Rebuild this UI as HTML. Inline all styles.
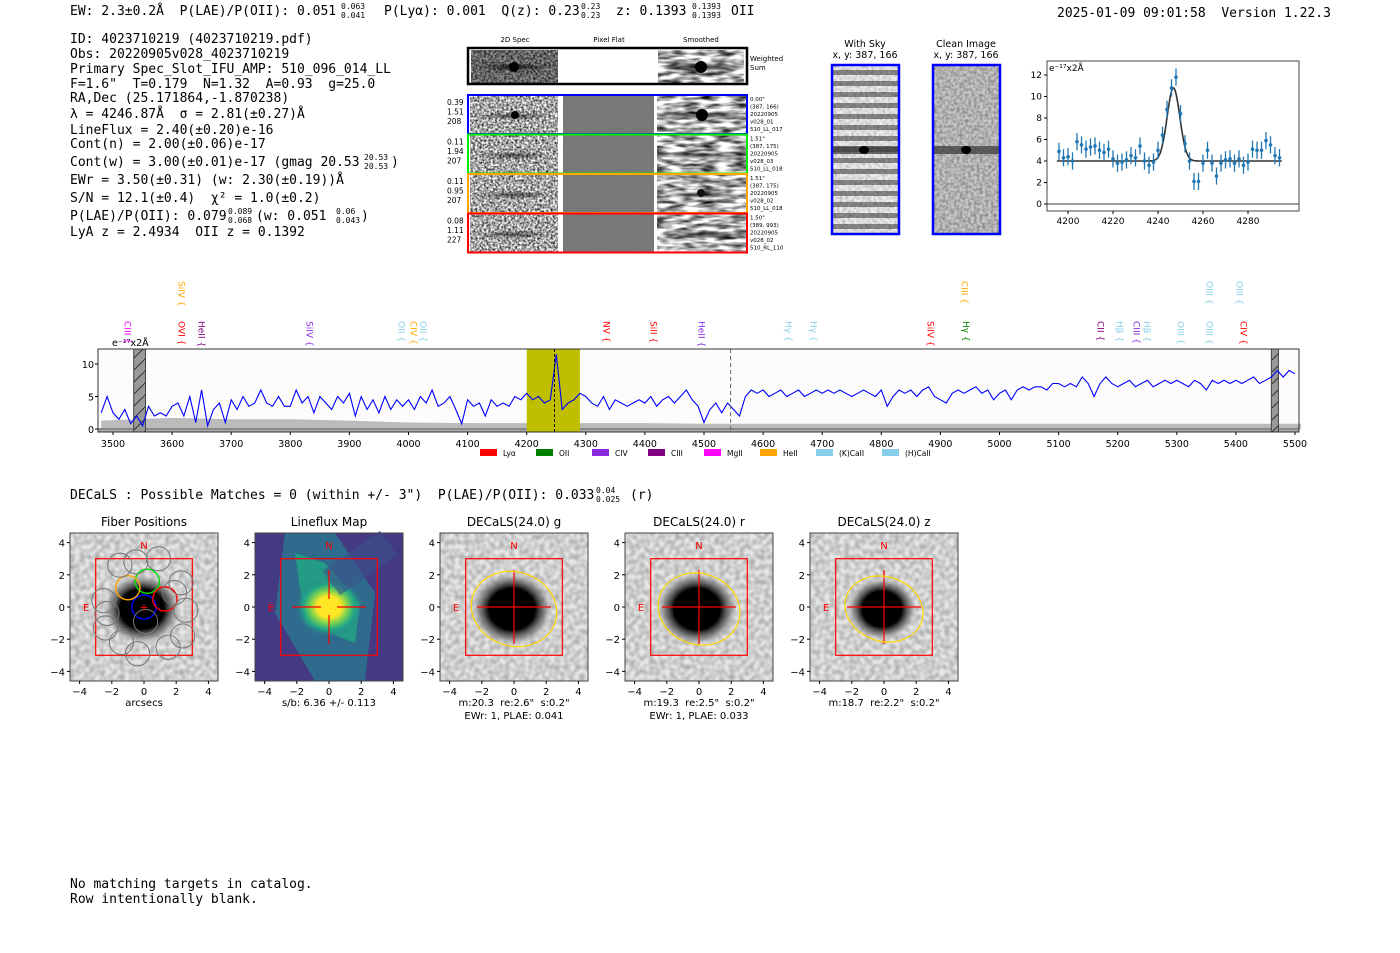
<!DOCTYPE html>
<html><head><meta charset="utf-8">
<style>
html,body{margin:0;padding:0;background:#fff;}
svg{display:block;}
svg text{white-space:pre;}
.mono{font-family:"DejaVu Sans Mono","Liberation Mono",monospace;font-size:13px;fill:#000;}
.sans{font-family:"DejaVu Sans","Liberation Sans",sans-serif;fill:#000;}
</style></head>
<body>
<svg id="page" width="1400" height="953" viewBox="0 0 1400 953" xmlns="http://www.w3.org/2000/svg" xml:space="preserve">
<defs>
  <filter id="noiseFine" x="0" y="0" width="100%" height="100%">
    <feTurbulence type="fractalNoise" baseFrequency="0.45" numOctaves="2" seed="3"/>
    <feColorMatrix type="matrix" values="0 0 0 0 0  0 0 0 0 0  0 0 0 0 0  0 0 0 -1.6 1.15"/>
  </filter>
  <filter id="noiseSoft" x="0" y="0" width="100%" height="100%">
    <feTurbulence type="fractalNoise" baseFrequency="0.06 0.25" numOctaves="2" seed="7"/>
    <feColorMatrix type="matrix" values="0 0 0 0 0  0 0 0 0 0  0 0 0 0 0  0 0 0 -1.8 1.2"/>
  </filter>
  <filter id="noiseFlat" x="0" y="0" width="100%" height="100%">
    <feTurbulence type="fractalNoise" baseFrequency="0.9" numOctaves="1" seed="2"/>
    <feColorMatrix type="matrix" values="0 0 0 0 0  0 0 0 0 0  0 0 0 0 0  0 0 0 -0.6 0.75"/>
  </filter>
  <filter id="noisePix" x="0" y="0" width="100%" height="100%">
    <feTurbulence type="fractalNoise" baseFrequency="0.2" numOctaves="1" seed="5"/>
    <feColorMatrix type="matrix" values="0 0 0 0 0  0 0 0 0 0  0 0 0 0 0  0 0 0 -0.5 0.35"/>
  </filter>
  <filter id="noiseSky" x="0" y="0" width="100%" height="100%">
    <feTurbulence type="fractalNoise" baseFrequency="0.35" numOctaves="1" seed="9"/>
    <feColorMatrix type="matrix" values="0 0 0 0 0  0 0 0 0 0  0 0 0 0 0  0 0 0 -0.9 0.6"/>
  </filter>
  <pattern id="stripes" width="10" height="11" patternUnits="userSpaceOnUse">
    <rect width="70" height="11" fill="#eeeeee"/>
    <rect y="4" width="70" height="5" fill="#8a8a8a"/>
  </pattern>
  <pattern id="hatch" width="12" height="12" patternUnits="userSpaceOnUse">
    <rect width="12" height="12" fill="#999"/>
    <line x1="0" y1="12" x2="12" y2="0" stroke="#333" stroke-width="1"/>
  </pattern>
  <radialGradient id="blob" cx="0.5" cy="0.5" r="0.5">
    <stop offset="0" stop-color="#000"/>
    <stop offset="0.55" stop-color="#000"/>
    <stop offset="0.8" stop-color="#777" stop-opacity="0.7"/>
    <stop offset="1" stop-color="#ddd" stop-opacity="0"/>
  </radialGradient>
  <radialGradient id="viridisBlob" cx="0.5" cy="0.5" r="0.5">
    <stop offset="0" stop-color="#fde725"/>
    <stop offset="0.35" stop-color="#fde725"/>
    <stop offset="0.55" stop-color="#7ad151"/>
    <stop offset="0.75" stop-color="#22a884"/>
    <stop offset="1" stop-color="#2a788e" stop-opacity="0"/>
  </radialGradient>
  <radialGradient id="darkband" cx="0.5" cy="0.5" r="0.5">
    <stop offset="0" stop-color="#000"/>
    <stop offset="1" stop-color="#000" stop-opacity="0"/>
  </radialGradient>
</defs>

<g>
  <text class="mono" x="70" y="15">EW: 2.3±0.2Å  P(LAE)/P(OII): 0.051</text>
  <text class="mono" x="341" y="9" style="font-size:8px">0.063</text>
  <text class="mono" x="341" y="18" style="font-size:8px">0.041</text>
  <text class="mono" x="384" y="15">P(Lyα): 0.001  Q(z): 0.23</text>
  <text class="mono" x="581" y="9" style="font-size:8px">0.23</text>
  <text class="mono" x="581" y="18" style="font-size:8px">0.23</text>
  <text class="mono" x="616" y="15">z: 0.1393</text>
  <text class="mono" x="692" y="9" style="font-size:8px">0.1393</text>
  <text class="mono" x="692" y="18" style="font-size:8px">0.1393</text>
  <text class="mono" x="731" y="15">OII</text>
  <text class="mono" x="1057" y="17">2025-01-09 09:01:58  Version 1.22.3</text>
</g>

<g>
  <text class="mono" x="70" y="43">ID: 4023710219 (4023710219.pdf)</text>
  <text class="mono" x="70" y="58">Obs: 20220905v028_4023710219</text>
  <text class="mono" x="70" y="73">Primary Spec_Slot_IFU_AMP: 510_096_014_LL</text>
  <text class="mono" x="70" y="88">F=1.6"  T=0.179  N=1.32  A=0.93  g=25.0</text>
  <text class="mono" x="70" y="102">RA,Dec (25.171864,-1.870238)</text>
  <text class="mono" x="70" y="118">λ = 4246.87Å  σ = 2.81(±0.27)Å</text>
  <text class="mono" x="70" y="134">LineFlux = 2.40(±0.20)e-16</text>
  <text class="mono" x="70" y="148">Cont(n) = 2.00(±0.06)e-17</text>
  <text class="mono" x="70" y="166">Cont(w) = 3.00(±0.01)e-17 (gmag 20.53</text>
  <text class="mono" x="364" y="160" style="font-size:8px">20.53</text>
  <text class="mono" x="364" y="169" style="font-size:8px">20.53</text>
  <text class="mono" x="391" y="166">)</text>
  <text class="mono" x="70" y="184">EWr = 3.50(±0.31) (w: 2.30(±0.19))Å</text>
  <text class="mono" x="70" y="202">S/N = 12.1(±0.4)  χ² = 1.0(±0.2)</text>
  <text class="mono" x="70" y="220">P(LAE)/P(OII): 0.079</text>
  <text class="mono" x="228" y="214" style="font-size:8px">0.089</text>
  <text class="mono" x="228" y="223" style="font-size:8px">0.068</text>
  <text class="mono" x="256" y="220">(w: 0.051</text>
  <text class="mono" x="336" y="214" style="font-size:8px">0.06</text>
  <text class="mono" x="336" y="223" style="font-size:8px">0.043</text>
  <text class="mono" x="361" y="220">)</text>
  <text class="mono" x="70" y="236">LyA z = 2.4934  OII z = 0.1392</text>
</g>

<g id="cutouts" class="sans" style="font-size:7px">
  <text x="515" y="42" text-anchor="middle">2D Spec</text>
  <text x="609" y="42" text-anchor="middle">Pixel Flat</text>
  <text x="701" y="42" text-anchor="middle">Smoothed</text>
  <text x="750" y="61">Weighted</text>
  <text x="750" y="70">Sum</text>
</g>

<g class="sans" style="font-size:9.5px">
  <text x="865" y="47" text-anchor="middle">With Sky</text>
  <text x="865" y="58" text-anchor="middle">x, y: 387, 166</text>
  <text x="966" y="47" text-anchor="middle">Clean Image</text>
  <text x="966" y="58" text-anchor="middle">x, y: 387, 166</text>
  <rect x="832" y="65" width="67" height="169" fill="url(#stripes)"/>
  <rect x="832" y="65" width="67" height="169" fill="#fff" filter="url(#noiseSky)" opacity="0.5"/>
  <rect x="832" y="146" width="67" height="8" fill="#333" opacity="0.7"/>
  <ellipse cx="864" cy="150" rx="5" ry="4" fill="#000"/>
  <rect x="832" y="65" width="67" height="169" fill="none" stroke="#0000ff" stroke-width="2.5"/>
  <rect x="933" y="65" width="67" height="169" fill="#c8c8c8"/>
  <rect x="933" y="65" width="67" height="169" fill="#fff" filter="url(#noiseSky)" opacity="0.8"/>
  <rect x="933" y="146" width="67" height="8" fill="#333" opacity="0.7"/>
  <ellipse cx="966" cy="150" rx="5" ry="4" fill="#000"/>
  <rect x="933" y="65" width="67" height="169" fill="none" stroke="#0000ff" stroke-width="2.5"/>
</g>

<g id="fitplot"></g>
<g id="specplot"></g>

<text class="mono" x="70" y="499">DECaLS : Possible Matches = 0 (within +/- 3")  P(LAE)/P(OII): 0.033</text>
<text class="mono" x="596" y="493" style="font-size:8px">0.04</text>
<text class="mono" x="596" y="502" style="font-size:8px">0.025</text>
<text class="mono" x="630" y="499">(r)</text>

<g id="panels"></g>

<text class="mono" x="70" y="888">No matching targets in catalog.</text>
<text class="mono" x="70" y="903">Row intentionally blank.</text>
</svg>

<script>
const fitWave = [4196,4198,4200,4202,4204,4206,4208,4210,4212,4214,4216,4218,4220,4222,4224,4226,4228,4230,4232,4234,4236,4238,4240,4242,4244,4246,4248,4250,4252,4254,4256,4258,4260,4262,4264,4266,4268,4270,4272,4274,4276,4278,4280,4282,4284,4286,4288,4290,4292,4294];
const fitFlux = [4.9,4.3,4.4,4.0,5.8,5.5,5.1,5.3,5.4,5.0,4.8,5.1,4.2,3.8,3.9,4.1,4.5,4.3,5.4,4.0,3.6,3.9,5.0,6.4,8.8,10.8,11.8,8.4,5.6,4.0,2.1,2.1,3.8,5.0,3.8,2.6,3.8,4.1,4.2,3.8,4.2,3.6,3.9,5.1,5.0,5.0,5.9,5.5,4.5,4.3];
const fitErr = [0.8,0.8,0.8,0.8,0.8,0.8,0.8,0.8,0.8,0.8,0.8,0.8,0.8,0.8,0.8,0.8,0.8,0.8,0.8,0.8,0.8,0.8,0.8,0.8,0.8,0.8,0.8,0.8,0.8,0.8,0.8,0.8,0.8,0.8,0.8,0.8,0.8,0.8,0.8,0.8,0.8,0.8,0.8,0.8,0.8,0.8,0.8,0.8,0.8,0.8];
const fitModel = [4.0, 6.8, 4246.87, 2.81];
const fitXTicks = [4200,4220,4240,4260,4280];
const fitYTicks = [0,2,4,6,8,10,12];

const specStart = 3480, specStep = 10;
const specFlux = [2.5,5,
 2.5,1.5,3,0.8,2,0.5,3.5,2,2.5,2,
 3.5,4,2,5,1,6,0.5,3,4,1,
 4.5,3,5,3.5,4,6,4,3.5,5,3.5,
 3.5,6,4,5,2.5,5,4,3,5,4,
 5.5,2,5,3,4.5,2.5,5,3,4.5,3.5,
 4.5,3,5,4,6,3.5,4,5,3,0.8,
 4.5,3.5,4,2,4.5,3.5,4,3.5,5,4.5,
 5.5,4.5,5,4,4.5,11.5,3,4,4.5,5.5,
 5,4,3.5,5,3,4.5,4,3.5,4,4.5,
 4,5,3.5,4.5,5,4,5,6,4.5,3.5,
 1,3,4,2.5,4,3,2,5,6,5.5,
 6,5,5.5,6,5,5.5,6,5,5.5,6,
 5.5,6,5.5,6,5.5,5,5.5,6,5.5,5,
 6,3.5,5,6,5.5,6,5,6,6.5,5,
 4.5,4,5.5,6,5.5,6,6.5,5.5,6,4.5,
 5.5,6,4.5,6,6.5,6,6.5,6.5,6,7,
 7,6.5,7,6.5,8,7,5,7,8,7,
 6.5,7,7.5,6.5,7,7.5,6.5,7,7.5,7,
 7.5,7,6.5,7.5,7,6,7.5,7,7.5,7,
 7.5,7,7.5,8,7,7.5,8,9,8,9,
 8.5];
const errWave = [3480,3600,3700,3800,3900,4000,4100,4200,4300,4400,4500,4600,4800,5000,5200,5400,5510];
const errFlux = [1.3,1.7,1.5,1.5,1.3,1.0,0.9,0.9,0.9,0.9,0.8,0.8,0.8,0.8,0.8,0.8,0.8];
const specXTicks = [3500,3600,3700,3800,3900,4000,4100,4200,4300,4400,4500,4600,4700,4800,4900,5000,5100,5200,5300,5400,5500];
const specYTicks = [0,5,10];
const lineNames = ["CIII","SiIV","OVI","HeII","SiIV","OII","CIV","OII","NV","SiII","HeII","Hγ","Hγ","SiIV","CIII","Hγ","CII","Hβ","CIII","Hβ","OIII","OIII","OIII","OIII","CIV"];
const lineWave  = [3525,3617,3617,3651,3833,3989,4009,4025,4336,4415,4497,4644,4686,4884,4942,4944,5172,5204,5233,5250,5307,5356,5356,5407,5414];
const lineRow   = [0,1,0,0,0,0,0,0,0,0,0,0,0,0,1,0,0,0,0,0,0,0,1,1,0];
const lineColor = ["#ff00ff","#ffa500","#ff0000","#800080","#8a2be2","#87ceeb","#ffa500","#87ceeb","#ff0000","#ff0000","#8a2be2","#87ceeb","#87ceeb","#ff0000","#ffa500","#008000","#800080","#87ceeb","#8a2be2","#87ceeb","#87ceeb","#87ceeb","#87ceeb","#87ceeb","#ff0000"];
const legendNames = ["Lyα","OII","CIV","CIII","MgII","HeII","(K)CaII","(H)CaII"];
const legendColors = ["#ff0000","#008000","#8a2be2","#800080","#ff00ff","#ffa500","#87ceeb","#87ceeb"];

const panelTitles = ["Fiber Positions","Lineflux Map","DECaLS(24.0) g","DECaLS(24.0) r","DECaLS(24.0) z"];
const panelCaption1 = ["arcsecs","s/b: 6.36 +/- 0.113","m:20.3  re:2.6\"  s:0.2\"","m:19.3  re:2.5\"  s:0.2\"","m:18.7  re:2.2\"  s:0.2\""];
const panelCaption2 = ["","","EWr: 1, PLAE: 0.041","EWr: 1, PLAE: 0.033",""];
const panelTicks = [-4,-2,0,2,4];
const ellipseRx = [0,0,2.4,2.3,2.2];
const ellipseRy = [0,0,2.3,2.2,2.0];
const fiberX = [0,0.2,-1.0,1.3,-1.5,-0.5,0.9,2.3,2.6,2.4,1.5,-0.4,-1.4,-2.4,-2.5,-2.3,0.1,1.9];
const fiberY = [0,1.6,1.2,0.5,2.6,2.8,3.0,1.5,-0.2,-1.8,-2.5,-2.9,-2.2,-1.3,0.4,-0.4,-0.9,0.9];
const fiberColor = ["#0000ff","#00dd00","#ffa500","#ff0000","#777","#777","#777","#777","#777","#777","#777","#777","#777","#777","#777","#777","#777","#777"];

const cutRowColors = ["#0000ff","#00ee00","#ffa500","#ff0000"];
const cutRowNums = [["0.39","1.51","208"],["0.11","1.94","207"],["0.11","0.95","207"],["0.08","1.11","227"]];
const cutRowInfo = [["0.00\"","(387, 166)","20220905","v028_01","510_LL_017"],["1.51\"","(387, 175)","20220905","v028_03","510_LL_018"],["1.51\"","(387, 175)","20220905","v028_02","510_LL_018"],["1.50\"","(389, 993)","20220905","v028_02","510_RL_110"]];

const NS = "http://www.w3.org/2000/svg";
function mk(parent, tag, attrs, text) {
  const e = document.createElementNS(NS, tag);
  for (const k in attrs) e.setAttribute(k, attrs[k]);
  if (text !== undefined) e.textContent = text;
  parent.appendChild(e);
  return e;
}
const SANS = '"DejaVu Sans","Liberation Sans",sans-serif';

(function(){
  const g = document.getElementById('cutouts');
  mk(g,'rect',{x:468,y:48,width:279,height:36,fill:'#fff'});
  let r = mk(g,'rect',{x:471,y:50,width:87,height:33,fill:'#9a9a9a'});
  r = mk(g,'rect',{x:471,y:50,width:87,height:33,fill:'#fff',filter:'url(#noiseFine)'});
  
  
  mk(g,'ellipse',{cx:514,cy:67,rx:40,ry:4,fill:'url(#darkband)',opacity:0.8});
  mk(g,'circle',{cx:514,cy:67,r:5,fill:'#000'});
  r = mk(g,'rect',{x:658,y:50,width:86,height:33,fill:'#fff',filter:'url(#noiseSoft)'});
  
  
  mk(g,'ellipse',{cx:701,cy:67,rx:44,ry:5,fill:'url(#darkband)',opacity:0.9});
  mk(g,'circle',{cx:701,cy:67,r:6,fill:'#000'});
  mk(g,'rect',{x:468,y:48,width:279,height:36,fill:'none',stroke:'#000','stroke-width':2.5});
  for (let i=0;i<4;i++){
    const y0 = 95 + i*39.5;
    const row = mk(g,'g',{});
    
    
    mk(row,'rect',{x:470,y:y0+1,width:88,height:37,fill:'#fff',filter:'url(#noiseFine)'});
    mk(row,'ellipse',{cx:514,cy:y0+21,rx:40,ry:4,fill:'url(#darkband)',opacity:0.6});
    if(i===0) mk(row,'circle',{cx:515,cy:y0+20,r:4,fill:'#000'});
    mk(row,'rect',{x:563,y:y0+1,width:91,height:37,fill:'#8c8c8c'});
    mk(row,'rect',{x:563,y:y0+1,width:91,height:37,fill:'#fff',filter:'url(#noiseFlat)',opacity:0.3});
    mk(row,'rect',{x:657,y:y0+1,width:89,height:37,fill:'#fff',filter:'url(#noiseSoft)'});
    mk(row,'ellipse',{cx:701,cy:y0+21,rx:44,ry:4,fill:'url(#darkband)',opacity:0.7});
    if(i===0) mk(row,'circle',{cx:702,cy:y0+20,r:6,fill:'#000'});
    if(i===2) mk(row,'circle',{cx:701,cy:y0+19,r:4,fill:'#111'});
    mk(row,'rect',{x:468,y:y0,width:279,height:39,fill:'none',stroke:cutRowColors[i],'stroke-width':2});
    for(let k=0;k<3;k++) mk(row,'text',{x:447,y:y0+10+k*9.5,'font-size':7.5,'font-family':SANS},cutRowNums[i][k]);
    for(let k=0;k<5;k++) mk(row,'text',{x:750,y:y0+6+k*7.5,'font-size':5.5,'font-family':SANS},cutRowInfo[i][k]);
  }
})();

(function(){
  const g = document.getElementById('fitplot');
  const L=1047,R=1299,T=61,B=211;
  const xs = w => 1068 + (w-4200)*2.25;
  const ys = v => 204 - v*10.75;
  mk(g,'rect',{x:L,y:T,width:R-L,height:B-T,fill:'#fff'});
  mk(g,'line',{x1:L,x2:R,y1:ys(0),y2:ys(0),stroke:'#666','stroke-width':1.2});
  let d='';
  for(let w=4195;w<=4295;w+=0.5){
    const v = fitModel[0]+fitModel[1]*Math.exp(-0.5*Math.pow((w-fitModel[2])/fitModel[3],2));
    d += (d?'L':'M')+xs(w).toFixed(1)+','+ys(v).toFixed(1);
  }
  const m = mk(g,'path',{d:d,fill:'none',stroke:'#333','stroke-width':1.6});
  
  
  for(let i=0;i<fitWave.length;i++){
    const x=xs(fitWave[i]), y=ys(fitFlux[i]);
    const eb = mk(g,'line',{x1:x,x2:x,y1:ys(fitFlux[i]-fitErr[i]),y2:ys(fitFlux[i]+fitErr[i]),stroke:'#1f77b4','stroke-width':1.3});
    
    
    const p = mk(g,'circle',{cx:x,cy:y,r:1.8,fill:'#1f77b4'});
    
    
  }
  mk(g,'rect',{x:L,y:T,width:R-L,height:B-T,fill:'none',stroke:'#444','stroke-width':1});
  fitXTicks.forEach(t=>{
    mk(g,'line',{x1:xs(t),x2:xs(t),y1:B,y2:B+3,stroke:'#000'});
    const tl = mk(g,'text',{x:xs(t),y:B+13,'text-anchor':'middle','font-size':9,'font-family':SANS},String(t));
    
    
  });
  fitYTicks.forEach(t=>{
    mk(g,'line',{x1:L-3,x2:L,y1:ys(t),y2:ys(t),stroke:'#000'});
    const tl = mk(g,'text',{x:L-5,y:ys(t)+3,'text-anchor':'end','font-size':9,'font-family':SANS},String(t));
    
    
  });
  const u = mk(g,'text',{x:L+2,y:T+10,'font-size':9,'font-family':SANS},'e⁻¹⁷x2Å');
  
  
})();

(function(){
  const g = document.getElementById('specplot');
  const L=98,R=1299,T=349,B=432;
  const xs = w => 113 + (w-3500)*0.591;
  const ys = v => 429 - v*6.5;
  mk(g,'rect',{x:L,y:T,width:R-L,height:B-T,fill:'#fcfcfc'});
  let d='M'+xs(errWave[0])+','+ys(0);
  errWave.forEach((w,i)=>{ d+='L'+xs(w).toFixed(1)+','+ys(errFlux[i]).toFixed(1); });
  d+='L'+xs(errWave[errWave.length-1])+','+ys(0)+'Z';
  const eb = mk(g,'path',{d:d,fill:'#bbb'});
  
  
  mk(g,'rect',{x:L,y:ys(0)-1,width:R-L,height:B-ys(0)+1,fill:'#aaa'});
  mk(g,'line',{x1:L,x2:R,y1:ys(0),y2:ys(0),stroke:'#666','stroke-width':1});
  const hl = mk(g,'rect',{x:xs(4200),y:T,width:xs(4290)-xs(4200),height:B-T,fill:'#bfbf00'});
  
  
  const m1 = mk(g,'rect',{x:xs(3535),y:T,width:xs(3555)-xs(3535),height:B-T,fill:'url(#hatch)',stroke:'#444'});
  
  
  const m2 = mk(g,'rect',{x:xs(5460),y:T,width:xs(5472)-xs(5460),height:B-T,fill:'url(#hatch)',stroke:'#444'});
  
  
  let p='';
  specFlux.forEach((v,i)=>{ const w=specStart+i*specStep; p+=(p?'L':'M')+xs(w).toFixed(1)+','+ys(v).toFixed(1); });
  const sl = mk(g,'path',{d:p,fill:'none',stroke:'#0000ff','stroke-width':1.1});
  
  
  mk(g,'line',{x1:xs(4247),x2:xs(4247),y1:T,y2:B,stroke:'#000','stroke-dasharray':'3,2','stroke-width':1});
  mk(g,'line',{x1:xs(4545),x2:xs(4545),y1:T,y2:B,stroke:'#666','stroke-dasharray':'4,3','stroke-width':1});
  mk(g,'rect',{x:L,y:T,width:R-L,height:B-T,fill:'none',stroke:'#333','stroke-width':1});
  specXTicks.forEach(t=>{
    mk(g,'line',{x1:xs(t),x2:xs(t),y1:B,y2:B+3,stroke:'#000'});
    const tl = mk(g,'text',{x:xs(t),y:B+15,'text-anchor':'middle','font-size':9.5,'font-family':SANS},String(t));
    
    
  });
  specYTicks.forEach(t=>{
    mk(g,'line',{x1:L-3,x2:L,y1:ys(t),y2:ys(t),stroke:'#000'});
    const tl = mk(g,'text',{x:L-4,y:ys(t)+4,'text-anchor':'end','font-size':9.5,'font-family':SANS},String(t));
    
    
  });
  const u = mk(g,'text',{x:112,y:346,'font-size':9.5,'font-family':SANS},'e⁻¹⁷x2Å');
  
  
  lineNames.forEach((n,i)=>{
    const x = xs(lineWave[i]);
    const y0 = lineRow[i] ? 281 : 321;
    const t = mk(g,'text',{x:0,y:0,transform:'translate('+(x-3.5)+','+y0+') rotate(90)','font-size':9,'font-family':SANS,fill:lineColor[i]},n+' {');
    
    
  });
  legendNames.forEach((n,i)=>{
    const lx = 480 + i*56 + (i>=7?10:0);
    const sw = mk(g,'rect',{x:lx,y:449,width:17,height:7,fill:legendColors[i]});
    
    
    const lt = mk(g,'text',{x:lx+23,y:456,'font-size':7.5,'font-family':SANS},n);
    
    
  });
})();

(function(){
  const g = document.getElementById('panels');
  const T=533, H=148, W=148, S=16.1;
  for(let k=0;k<5;k++){
    const L = 625 + (k-3)*185;
    const cx = L+W/2, cy = 607;
    const pg = mk(g,'g',{});
    
    
    if(k===1){
      mk(pg,'rect',{x:L,y:T,width:W,height:H,fill:'#443a83'});
      mk(pg,'polygon',{points:(L+30)+','+T+' '+(L+80)+','+T+' '+(L+120)+','+(T+60)+' '+(L+110)+','+(T+H)+' '+(L+60)+','+(T+H)+' '+(L+20)+','+(T+80),fill:'#2a788e',opacity:0.8});
      mk(pg,'polygon',{points:(L+40)+','+(T+20)+' '+(L+70)+','+(T+30)+' '+(L+105)+','+(T+70)+' '+(L+100)+','+(T+110)+' '+(L+50)+','+(T+90),fill:'#22a884',opacity:0.8});
      mk(pg,'ellipse',{cx:cx,cy:cy,rx:34,ry:30,fill:'url(#viridisBlob)'});
      mk(pg,'rect',{x:L+70,y:T+15,width:70,height:30,fill:'#3b528b',opacity:0.6,transform:'rotate(-35 '+(L+105)+' '+(T+30)+')'});
    } else {
      mk(pg,'rect',{x:L,y:T,width:W,height:H,fill:'#e6e6e6'});
      mk(pg,'rect',{x:L,y:T,width:W,height:H,fill:'#fff',filter:'url(#noisePix)'});
      const rb = k===0?40:(k===4?36:42);
      mk(pg,'ellipse',{cx:cx-2,cy:cy+2,rx:rb,ry:rb*0.9,fill:'url(#blob)'});
    }
    mk(pg,'rect',{x:cx-3*S,y:cy-3*S,width:6*S,height:6*S,fill:'none',stroke:'#ff0000','stroke-width':1.2});
    mk(pg,'text',{x:cx,y:cy-3.6*S,'text-anchor':'middle','font-size':10,'font-family':SANS,fill:'#ff0000'},'N');
    mk(pg,'text',{x:cx-3.6*S,y:cy+4,'text-anchor':'middle','font-size':10,'font-family':SANS,fill:'#ff0000'},'E');
    if(k===0){
      fiberX.forEach((fx,i)=>{
        const c = mk(pg,'circle',{cx:cx+fx*S,cy:cy-fiberY[i]*S,r:0.75*S,fill:'none',stroke:fiberColor[i],'stroke-width':i<4?1.4:1});
        
        
      });
      mk(pg,'text',{x:cx,y:cy+4,'text-anchor':'middle','font-size':11,'font-family':SANS,fill:'#ff0000'},'+');
    } else {
      mk(pg,'line',{x1:cx-2.3*S,x2:cx-0.5*S,y1:cy,y2:cy,stroke:'#ff0000','stroke-width':1.2});
      mk(pg,'line',{x1:cx+0.5*S,x2:cx+2.3*S,y1:cy,y2:cy,stroke:'#ff0000','stroke-width':1.2});
      mk(pg,'line',{x1:cx,x2:cx,y1:cy-2.3*S,y2:cy-0.5*S,stroke:'#ff0000','stroke-width':1.2});
      mk(pg,'line',{x1:cx,x2:cx,y1:cy+0.5*S,y2:cy+2.3*S,stroke:'#ff0000','stroke-width':1.2});
      if(k>=2){
        mk(pg,'line',{x1:cx-0.5*S,x2:cx+0.5*S,y1:cy,y2:cy,stroke:'#ff0000','stroke-width':1.2});
        mk(pg,'line',{x1:cx,x2:cx,y1:cy-0.5*S,y2:cy+0.5*S,stroke:'#ff0000','stroke-width':1.2});
        const el = mk(pg,'ellipse',{cx:cx,cy:cy+2,rx:ellipseRx[k]*S*1.12,ry:ellipseRy[k]*S,fill:'none',stroke:'#ffd700','stroke-width':1.2,transform:'rotate(18 '+cx+' '+(cy+2)+')'});
        
        
      }
    }
    mk(pg,'rect',{x:L,y:T,width:W,height:H,fill:'none',stroke:'#444','stroke-width':1});
    const tt = mk(pg,'text',{x:cx,y:526,'text-anchor':'middle','font-size':12,'font-family':SANS},panelTitles[k]);
    
    
    panelTicks.forEach(t=>{
      mk(pg,'line',{x1:cx+t*S,x2:cx+t*S,y1:T+H,y2:T+H+3,stroke:'#000'});
      mk(pg,'text',{x:cx+t*S,y:T+H+14,'text-anchor':'middle','font-size':10,'font-family':SANS},(t<0?'−':'')+Math.abs(t));
      mk(pg,'line',{x1:L-3,x2:L,y1:cy-t*S,y2:cy-t*S,stroke:'#000'});
      mk(pg,'text',{x:L-5,y:cy-t*S+4,'text-anchor':'end','font-size':10,'font-family':SANS},(t<0?'−':'')+Math.abs(t));
    });
    mk(pg,'text',{x:cx,y:706,'text-anchor':'middle','font-size':10,'font-family':SANS},panelCaption1[k]);
    if(panelCaption2[k]) mk(pg,'text',{x:cx,y:719,'text-anchor':'middle','font-size':10,'font-family':SANS},panelCaption2[k]);
  }
})();
</script>
</body></html>
